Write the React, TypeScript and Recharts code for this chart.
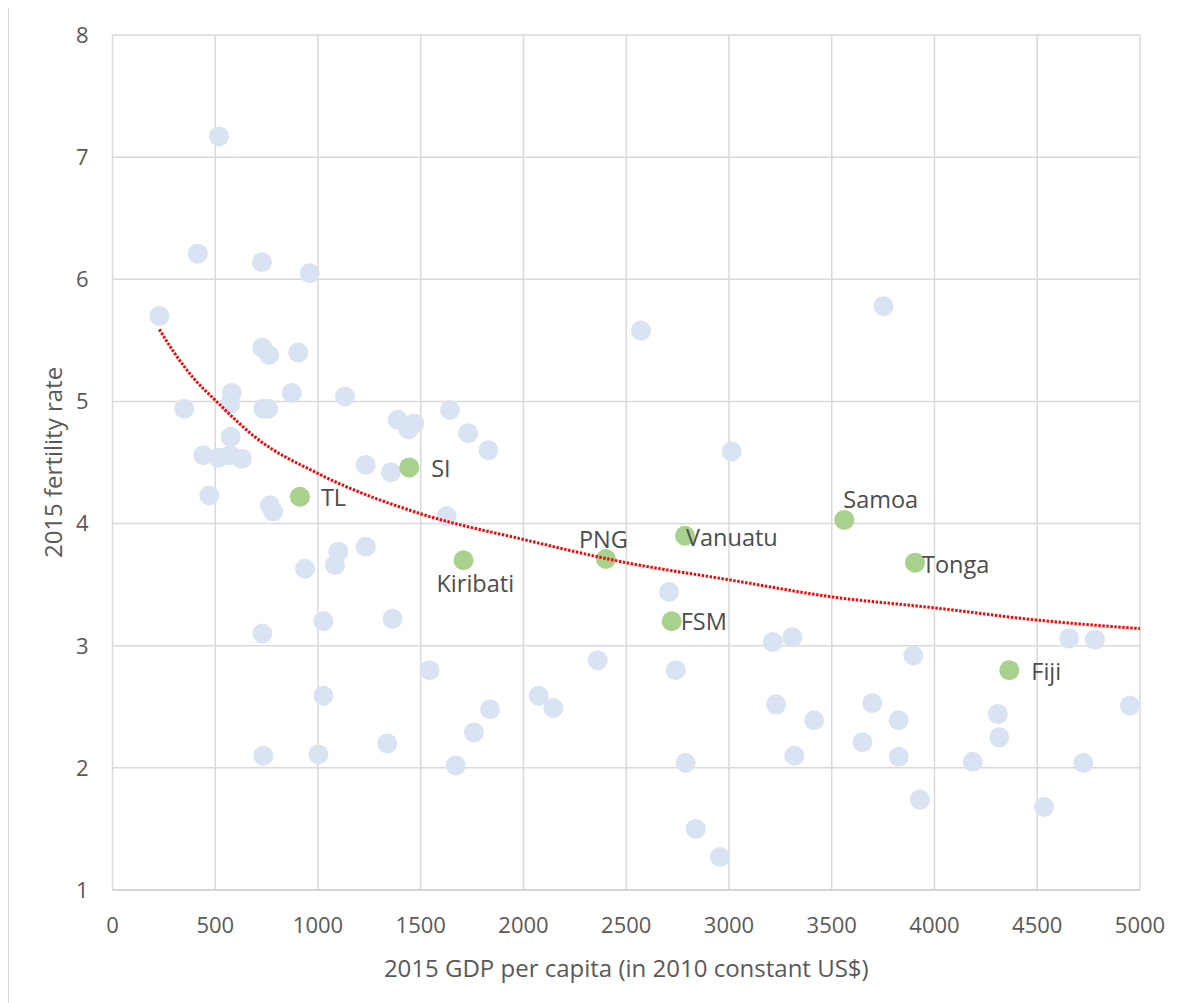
import React from 'react';
import {
  ScatterChart,
  Scatter,
  XAxis,
  YAxis,
  CartesianGrid,
  LabelList,
} from 'recharts';

// Other countries (light blue points)
const otherGdp = [
  228, 518, 415, 727, 960, 729, 762, 904, 580, 572, 872, 1131, 349, 734, 758, 575,
  442, 515, 572, 629, 471, 766, 782, 1232, 1355, 1388, 1469, 1440, 1642, 1731, 1829,
  1626, 1099, 1083, 1232, 937, 729, 1026, 1363, 1542, 1026, 1837, 1759, 1670, 1337,
  1002, 734, 2572, 3013, 2708, 3752, 2361, 2074, 2145, 2741, 3213, 3308, 3229, 3414,
  3318, 3697, 3649, 2789, 2838, 2956, 3897, 4656, 4781, 3826, 3826, 4308, 4315, 4186,
  4951, 4724, 3929, 4533,
];
const otherFertility = [
  5.7, 7.17, 6.21, 6.14, 6.05, 5.44, 5.38, 5.4, 5.07, 4.98, 5.07, 5.04, 4.94, 4.94, 4.94, 4.71,
  4.56, 4.54, 4.56, 4.53, 4.23, 4.15, 4.1, 4.48, 4.42, 4.85, 4.82, 4.77, 4.93, 4.74, 4.6,
  4.06, 3.77, 3.66, 3.81, 3.63, 3.1, 3.2, 3.22, 2.8, 2.59, 2.48, 2.29, 2.02, 2.2,
  2.11, 2.1, 5.58, 4.59, 3.44, 5.78, 2.88, 2.59, 2.49, 2.8, 3.03, 3.07, 2.52, 2.39,
  2.1, 2.53, 2.21, 2.04, 1.5, 1.27, 2.92, 3.06, 3.05, 2.39, 2.09, 2.44, 2.25, 2.05,
  2.51, 2.04, 1.74, 1.68,
];

// Pacific countries (green, labelled)
const pacificNames = ['TL', 'SI', 'Kiribati', 'PNG', 'Vanuatu', 'Samoa', 'Tonga', 'FSM', 'Fiji'];
const pacificGdp = [912, 1444, 1708, 2401, 2786, 3561, 3905, 2721, 4364];
const pacificFertility = [4.22, 4.46, 3.7, 3.71, 3.9, 4.03, 3.68, 3.2, 2.8];

// Logarithmic trend line
const trendGdp = [228, 300, 400, 500, 700, 1000, 1500, 2000, 2500, 3000, 3500, 4000, 4500, 5000];
const trendFertility = [5.59, 5.4, 5.18, 5.01, 4.7, 4.41, 4.08, 3.87, 3.68, 3.54, 3.4, 3.31, 3.21, 3.14];

// Axis ticks
const xTicks = [0, 500, 1000, 1500, 2000, 2500, 3000, 3500, 4000, 4500, 5000];
const yTicks = [1, 2, 3, 4, 5, 6, 7, 8];

const otherData = otherGdp.map((x, i) => ({ x, y: otherFertility[i] }));
const pacificData = pacificGdp.map((x, i) => ({ x, y: pacificFertility[i], name: pacificNames[i] }));
const trendData = trendGdp.map((x, i) => ({ x, y: trendFertility[i] }));

// label placement relative to the point centre (styling, not data)
const labelPlacement: Record<string, { dx: number; dy: number }> = {
  TL: { dx: 21, dy: 1 },
  SI: { dx: 22, dy: 1 },
  Kiribati: { dx: -27, dy: 23 },
  PNG: { dx: -27, dy: -19 },
  Vanuatu: { dx: 1, dy: 1.5 },
  Samoa: { dx: -1, dy: -20 },
  Tonga: { dx: 7, dy: 1.5 },
  FSM: { dx: 9, dy: 0.5 },
  Fiji: { dx: 22, dy: 1 },
};

const FONT = '"Open Sans", "DejaVu Sans", sans-serif';

const Dot = (color: string) => (props: any) => {
  const { cx, cy } = props;
  if (cx == null || cy == null) return <g />;
  return <circle cx={cx} cy={cy} r={10} fill={color} />;
};

const NoDot = () => <g />;

const PacificLabel = (props: any) => {
  const { x, y, width, height, value } = props;
  const cx = x + (width || 0) / 2;
  const cy = y + (height || 0) / 2;
  const p = labelPlacement[value] || { dx: 14, dy: 0 };
  return (
    <text
      x={cx + p.dx}
      y={cy + p.dy}
      dy="0.36em"
      textAnchor="start"
      fill="#4d4d4d"
      fontSize={23.5}
      fontFamily={FONT}
    >
      {value}
    </text>
  );
};

export default function App() {
  return (
    <div
      style={{
        width: 1179,
        height: 995,
        borderLeft: '1px solid #d9d9d9',
        background: '#fff',
        fontFamily: FONT,
      }}
    >
      <ScatterChart
        width={1179}
        height={995}
        margin={{ top: 27, right: 48, bottom: 0, left: 0 }}
        style={{ fontFamily: FONT }}
      >
        <CartesianGrid stroke="#d9d9d9" strokeWidth={1.5} />
        <XAxis
          type="number"
          dataKey="x"
          domain={[0, 5000]}
          ticks={xTicks}
          interval={0}
          height={113}
          tickLine={false}
          tickSize={0}
          tickMargin={27}
          axisLine={{ stroke: '#d0d0d0', strokeWidth: 1.5 }}
          tick={{ fill: '#595959', fontSize: 22, fontFamily: FONT }}
          label={{
            value: '2015 GDP per capita (in 2010 constant US$)',
            position: 'insideBottom',
            offset: 26,
            fill: '#595959',
            fontSize: 24,
            fontFamily: FONT,
          }}
          allowDataOverflow
        />
        <YAxis
          type="number"
          dataKey="y"
          domain={[1, 8]}
          ticks={yTicks}
          interval={0}
          width={103.5}
          tickLine={false}
          tickSize={0}
          tickMargin={24}
          axisLine={false}
          tick={{ fill: '#595959', fontSize: 22, fontFamily: FONT }}
          label={{
            value: '2015 fertility rate',
            angle: -90,
            position: 'insideLeft',
            offset: 44,
            fill: '#595959',
            fontSize: 24,
            fontFamily: FONT,
            style: { textAnchor: 'middle' },
          }}
          allowDataOverflow
        />
        <Scatter
          data={otherData}
          fill="#dae3f3"
          shape={Dot('#dae3f3')}
          isAnimationActive={false}
        />
        <Scatter
          data={pacificData}
          fill="#a9d18e"
          shape={Dot('#a9d18e')}
          isAnimationActive={false}
        >
          <LabelList dataKey="name" content={PacificLabel} />
        </Scatter>
        <Scatter
          data={trendData}
          shape={NoDot}
          line={{ stroke: '#ff0000', strokeWidth: 3, strokeDasharray: '2.4 1.6' }}
          lineJointType="monotoneX"
          isAnimationActive={false}
        />
      </ScatterChart>
    </div>
  );
}
